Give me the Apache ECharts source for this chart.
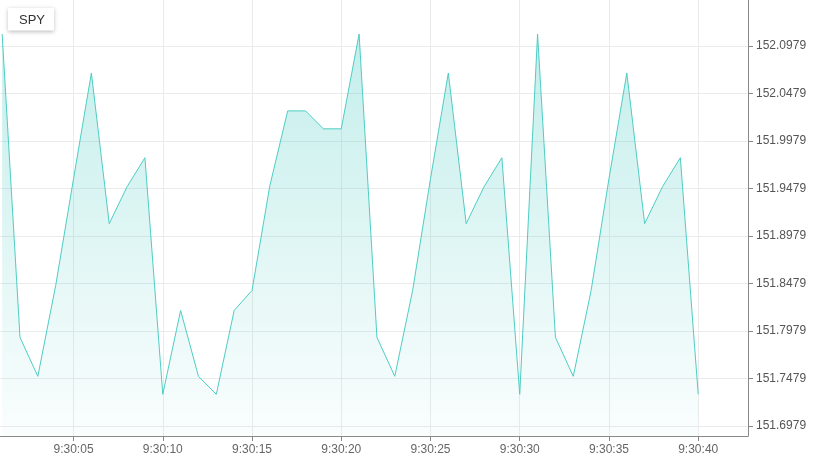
<!DOCTYPE html>
<html><head><meta charset="utf-8">
<script src="https://cdn.jsdelivr.net/npm/echarts@6/dist/echarts.min.js"></script>
<style>html,body{margin:0;padding:0;background:#fff}#c{width:820px;height:476px}</style>
</head><body><div id="c"></div>
<script>
const seriesName = 'SPY';
const times = ['9:30:01','9:30:02','9:30:03','9:30:04','9:30:05','9:30:06','9:30:07','9:30:08','9:30:09','9:30:10',
  '9:30:11','9:30:12','9:30:13','9:30:14','9:30:15','9:30:16','9:30:17','9:30:18','9:30:19','9:30:20',
  '9:30:21','9:30:22','9:30:23','9:30:24','9:30:25','9:30:26','9:30:27','9:30:28','9:30:29','9:30:30',
  '9:30:31','9:30:32','9:30:33','9:30:34','9:30:35','9:30:36','9:30:37','9:30:38','9:30:39','9:30:40'];
const prices = [152.1105,151.7912,151.7502,151.8458,151.9582,152.0695,151.9109,151.9498,151.9803,151.7313,
  151.8195,151.7502,151.7313,151.8195,151.8406,151.9509,152.0296,152.0296,152.0107,152.0107,
  152.1105,151.7912,151.7502,151.8406,151.9582,152.0695,151.9109,151.9498,151.9803,151.7313,
  152.1105,151.7912,151.7502,151.8406,151.9582,152.0695,151.9109,151.9498,151.9803,151.7313];
const yTicks = [151.6979,151.7479,151.7979,151.8479,151.8979,151.9479,151.9979,152.0479,152.0979];
const xTicks = ['9:30:05','9:30:10','9:30:15','9:30:20','9:30:25','9:30:30','9:30:35','9:30:40'];
const xMin = '9:30:00.880', xMax = '9:30:42.790';

function toMs(s){
  const [h,m,sec] = s.split(':');
  return Date.UTC(2024,0,2,+h,+m,0) + Math.round(parseFloat(sec)*1000);
}
function fmt(ms){
  const d = new Date(ms);
  const p = n => String(n).padStart(2,'0');
  return d.getUTCHours()+':'+p(d.getUTCMinutes())+':'+p(d.getUTCSeconds());
}
const chart = echarts.init(document.getElementById('c'), null, {renderer:'canvas'});
const data = times.map((t,i)=>[toMs(t), prices[i]]);
const FONT = 'Liberation Sans, Arial, sans-serif';
chart.setOption({
  animation: false,
  backgroundColor: '#fff',
  legend: {
    data: [seriesName], left: 8, top: 8, icon: 'none', itemWidth: 0, itemGap: 0,
    padding: [5, 9, 4, 6], backgroundColor: '#fff',
    shadowBlur: 4, shadowColor: 'rgba(0,0,0,0.25)', shadowOffsetY: 1,
    textStyle: {fontSize: 13, color: '#333', fontFamily: FONT, padding: 0}
  },
  grid: {left: 0, right: 72, top: 0, bottom: 40, containLabel: false},
  xAxis: {
    type: 'value', min: toMs(xMin), max: toMs(xMax), scale: true,
    axisLine: {show: true, onZero: false, lineStyle: {color: '#888'}},
    axisTick: {show: true, customValues: xTicks.map(toMs), lineStyle: {color: '#888'}, length: 5},
    axisLabel: {customValues: xTicks.map(toMs), formatter: v => fmt(v), color: '#666', fontSize: 12,
      fontFamily: FONT, margin: 8},
    splitLine: {show: true, lineStyle: {color: '#ebebeb'}}
  },
  yAxis: {
    type: 'value', position: 'right', min: 151.6874, max: 152.1463, scale: true,
    axisLine: {show: true, lineStyle: {color: '#888'}},
    axisTick: {show: true, customValues: yTicks, lineStyle: {color: '#888'}, length: 5},
    axisLabel: {customValues: yTicks, formatter: v => v.toFixed(4), color: '#555', fontSize: 12,
      fontFamily: FONT, margin: 8},
    splitLine: {show: true, lineStyle: {color: '#ebebeb'}}
  },
  series: [{
    name: seriesName, type: 'line', data: data, showSymbol: false, symbol: 'none',
    lineStyle: {color: '#4ecdc4', width: 1}, itemStyle: {color: '#4ecdc4'},
    areaStyle: {color: new echarts.graphic.LinearGradient(0,0,0,1,[
      {offset: 0, color: 'rgba(78,205,196,0.48)'},
      {offset: 1, color: 'rgba(78,205,196,0.04)'}])}
  }]
});
</script></body></html>
